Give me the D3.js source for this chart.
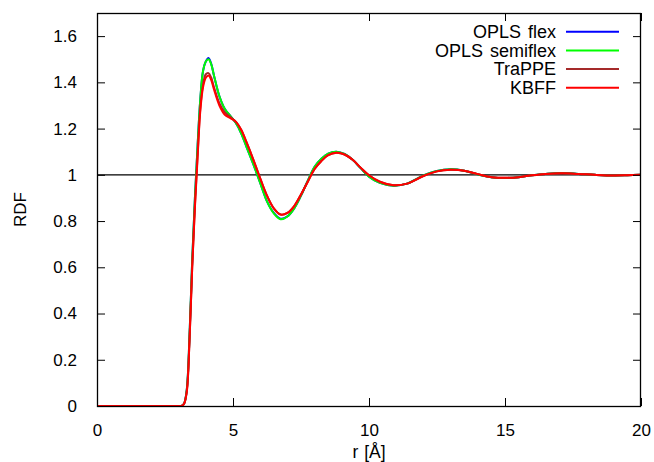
<!DOCTYPE html>
<html><head><meta charset="utf-8">
<script src="https://cdn.jsdelivr.net/npm/d3@7"></script>
<style>body{margin:0;background:#fff}text{font-family:"Liberation Sans",Arial,sans-serif;}</style>
</head><body><svg id="c" width="654" height="462"></svg>
<script>
const r = [0, 3.0, 3.1, 3.2, 3.3, 3.4, 3.5, 3.6, 3.7, 3.8, 3.9, 4.0, 4.1, 4.2, 4.3, 4.5, 4.7, 4.9, 5.1, 5.3, 5.5, 5.75, 6.0, 6.25, 6.5, 6.75, 7.0, 7.25, 7.5, 7.75, 8.0, 8.25, 8.5, 8.8, 9.1, 9.4, 9.7, 10.0, 10.4, 10.9, 11.4, 12.0, 12.5, 13.0, 13.5, 14.0, 14.5, 15.0, 15.5, 16.0, 16.5, 17.1, 17.7, 18.3, 19.0, 19.5, 20.0];
const oplsFlex = [0, 0, 0, 0.01, 0.07, 0.30, 0.63, 0.90, 1.13, 1.33, 1.45, 1.49, 1.505, 1.48, 1.43, 1.34, 1.285, 1.255, 1.225, 1.18, 1.12, 1.045, 0.965, 0.885, 0.835, 0.81, 0.82, 0.855, 0.91, 0.975, 1.035, 1.07, 1.092, 1.10, 1.09, 1.065, 1.028, 0.992, 0.965, 0.953, 0.962, 0.997, 1.017, 1.024, 1.018, 1.002, 0.99, 0.986, 0.99, 0.998, 1.004, 1.008, 1.004, 1.0, 0.997, 0.998, 1.0];
const oplsSemiflex = [0, 0, 0, 0.01, 0.07, 0.30, 0.63, 0.90, 1.13, 1.33, 1.45, 1.49, 1.50, 1.478, 1.43, 1.34, 1.285, 1.255, 1.225, 1.18, 1.12, 1.045, 0.965, 0.885, 0.833, 0.808, 0.82, 0.855, 0.91, 0.975, 1.035, 1.07, 1.092, 1.10, 1.09, 1.065, 1.028, 0.992, 0.965, 0.953, 0.962, 0.997, 1.017, 1.024, 1.018, 1.002, 0.99, 0.986, 0.99, 0.998, 1.004, 1.008, 1.004, 1.0, 0.997, 0.998, 1.0];
const trappe = [0, 0, 0, 0.01, 0.065, 0.28, 0.60, 0.87, 1.09, 1.29, 1.39, 1.435, 1.44, 1.42, 1.38, 1.31, 1.27, 1.25, 1.23, 1.195, 1.14, 1.065, 0.985, 0.91, 0.855, 0.828, 0.835, 0.865, 0.915, 0.97, 1.025, 1.06, 1.085, 1.095, 1.088, 1.065, 1.03, 0.998, 0.97, 0.955, 0.962, 0.995, 1.015, 1.022, 1.018, 1.003, 0.99, 0.987, 0.99, 0.998, 1.004, 1.007, 1.004, 1.0, 0.997, 0.998, 1.0];
const kbff = [0, 0, 0, 0.01, 0.06, 0.28, 0.60, 0.86, 1.08, 1.28, 1.38, 1.42, 1.43, 1.41, 1.37, 1.30, 1.26, 1.245, 1.23, 1.195, 1.14, 1.065, 0.985, 0.91, 0.855, 0.828, 0.835, 0.865, 0.915, 0.97, 1.025, 1.06, 1.085, 1.095, 1.088, 1.065, 1.03, 0.998, 0.97, 0.955, 0.962, 0.995, 1.015, 1.022, 1.018, 1.003, 0.99, 0.987, 0.99, 0.998, 1.004, 1.007, 1.004, 1.0, 0.997, 0.998, 1.0];
const seriesNames = ["OPLS flex", "OPLS semiflex", "TraPPE", "KBFF"];
const seriesColors = ["#0000ff", "#00ff00", "#a52a2a", "#ff0000"];
const seriesValues = [oplsFlex, oplsSemiflex, trappe, kbff];
const xTicks = [0, 5, 10, 15, 20];
const yTicks = [0, 0.2, 0.4, 0.6, 0.8, 1, 1.2, 1.4, 1.6];

const svg = d3.select("#c");
const L = 97, R = 641, T = 13, B = 406;
const x = d3.scaleLinear().domain([0, 20]).range([L, R]);
const y = d3.scaleLinear().domain([0, 1.7]).range([B, T]);
const fs = "17px";

// y=1 reference line
svg.append("line").attr("x1", L).attr("x2", R).attr("y1", y(1)).attr("y2", y(1))
  .attr("stroke", "#000").attr("stroke-width", 1.3);

const line = d3.line().x((d, i) => x(r[i])).y(d => y(d)).curve(d3.curveCatmullRom.alpha(0.5));
seriesValues.forEach((vals, k) => {
  svg.append("path").datum(vals).attr("d", line).attr("fill", "none")
    .attr("stroke", seriesColors[k]).attr("stroke-width", 2).attr("stroke-linejoin", "round");
});

// frame
svg.append("rect").attr("x", L + 0.5).attr("y", T + 0.5).attr("width", R - L - 1).attr("height", B - T)
  .attr("fill", "none").attr("stroke", "#000").attr("stroke-width", 1.3);

// axes with inward ticks
const tk = 8;
svg.append("g").attr("transform", `translate(0,${B})`)
  .call(d3.axisBottom(x).tickValues(xTicks).tickSize(-tk).tickPadding(tk + 10).tickFormat(d3.format("d")))
  .call(g => { g.select(".domain").remove(); g.selectAll("text").attr("font-size", fs).attr("fill", "#000").style("font-family", "'Liberation Sans',Arial,sans-serif"); });
svg.append("g").attr("transform", `translate(0,${T})`)
  .call(d3.axisTop(x).tickValues(xTicks).tickSize(-tk).tickFormat(""))
  .call(g => g.select(".domain").remove());
svg.append("g").attr("transform", `translate(${L},0)`)
  .call(d3.axisLeft(y).tickValues(yTicks).tickSize(-tk).tickPadding(tk + 12).tickFormat(d => d3.format("")(+d.toFixed(1))))
  .call(g => { g.select(".domain").remove(); g.selectAll("text").attr("font-size", fs).attr("fill", "#000").style("font-family", "'Liberation Sans',Arial,sans-serif"); });
svg.append("g").attr("transform", `translate(${R},0)`)
  .call(d3.axisRight(y).tickValues(yTicks).tickSize(-tk).tickFormat(""))
  .call(g => g.select(".domain").remove());

// axis titles
svg.append("text").attr("x", (L + R) / 2).attr("y", 458).attr("text-anchor", "middle")
  .attr("font-size", "17.5px").attr("word-spacing", "1px").text("r [Å]");
svg.append("text").attr("transform", `translate(26,${(T + B) / 2}) rotate(-90)`).attr("text-anchor", "middle")
  .attr("font-size", fs).text("RDF");

// legend
seriesNames.forEach((n, k) => {
  const yy = 31.7 + k * 18.7;
  svg.append("text").attr("x", 556).attr("y", yy).attr("dy", "0.35em").attr("text-anchor", "end")
    .attr("font-size", "18px").attr("word-spacing", "2px").text(n);
  svg.append("line").attr("x1", 566).attr("x2", 619).attr("y1", yy).attr("y2", yy)
    .attr("stroke", seriesColors[k]).attr("stroke-width", 2);
});
</script></body></html>
